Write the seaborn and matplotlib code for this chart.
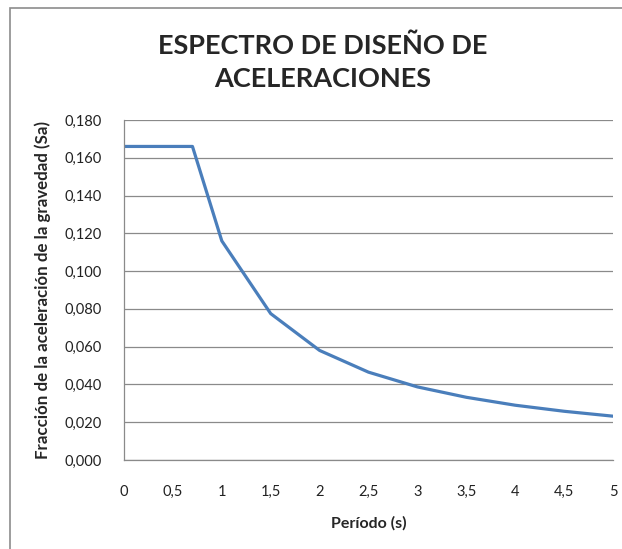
import matplotlib
matplotlib.use("Agg")
import matplotlib.pyplot as plt
from matplotlib.patches import Rectangle
from matplotlib.ticker import FuncFormatter, MultipleLocator
import pandas as pd
import seaborn as sns

# Design spectrum: period (s) vs spectral acceleration as fraction of g
periodo = [0.0, 0.7, 1.0, 1.5, 2.0, 2.5, 3.0, 3.5, 4.0, 4.5, 5.0]
sa = [0.166, 0.166, 0.116, 0.0775, 0.058, 0.0465, 0.0387, 0.0332, 0.029, 0.0258, 0.0232]

titulo = "ESPECTRO DE DISEÑO DE\nACELERACIONES"
etiqueta_x = "Período (s)"
etiqueta_y = "Fracción de la aceleración de la gravedad (Sa)"

df = pd.DataFrame({"T": periodo, "Sa": sa})

sns.set_style("white")
plt.rcParams["font.family"] = ["Lato", "DejaVu Sans"]

W, H = 622, 549
fig = plt.figure(figsize=(W / 100, H / 100), dpi=100)

# outer chart frame
fig.patches.append(Rectangle((10 / W, -0.1), 1.2, 1 - 8 / H + 0.1,
                             transform=fig.transFigure, fill=False,
                             edgecolor="#8c8c8c", linewidth=1.2))

ax = fig.add_axes([124 / W, 1 - 460 / H, (613 - 124) / W, (460 - 120) / H])

sns.lineplot(data=df, x="T", y="Sa", ax=ax, sort=False,
             color="#4a7ebb", linewidth=2.3)

ax.set_xlim(0, 5)
ax.set_ylim(0, 0.18)
ax.xaxis.set_major_locator(MultipleLocator(0.5))
ax.yaxis.set_major_locator(MultipleLocator(0.02))

def fmt_x(v, pos):
    s = f"{v:g}"
    return s.replace(".", ",")

def fmt_y(v, pos):
    return f"{v:.3f}".replace(".", ",")

ax.xaxis.set_major_formatter(FuncFormatter(fmt_x))
ax.yaxis.set_major_formatter(FuncFormatter(fmt_y))

ax.grid(axis="y", color="#8a8a8a", linewidth=0.9)
ax.grid(axis="x", visible=False)
ax.set_axisbelow(True)

for side in ["top", "right"]:
    ax.spines[side].set_visible(False)
for side in ["left", "bottom"]:
    ax.spines[side].set_color("#8a8a8a")
    ax.spines[side].set_linewidth(0.9)

ax.tick_params(axis="both", length=0, labelsize=10.5, colors="#222222")
ax.tick_params(axis="y", pad=16)
ax.tick_params(axis="x", pad=18)

ax.set_xlabel(etiqueta_x, fontsize=11.5, fontweight="bold", labelpad=12)
ax.set_ylabel(etiqueta_y, fontsize=12.2, fontweight="bold", labelpad=10)

fig.text(323 / W, 1 - 62 / H, titulo, ha="center", va="center",
         fontsize=19.5, fontweight="bold", linespacing=1.45)

fig.savefig("out.png", dpi=100)
